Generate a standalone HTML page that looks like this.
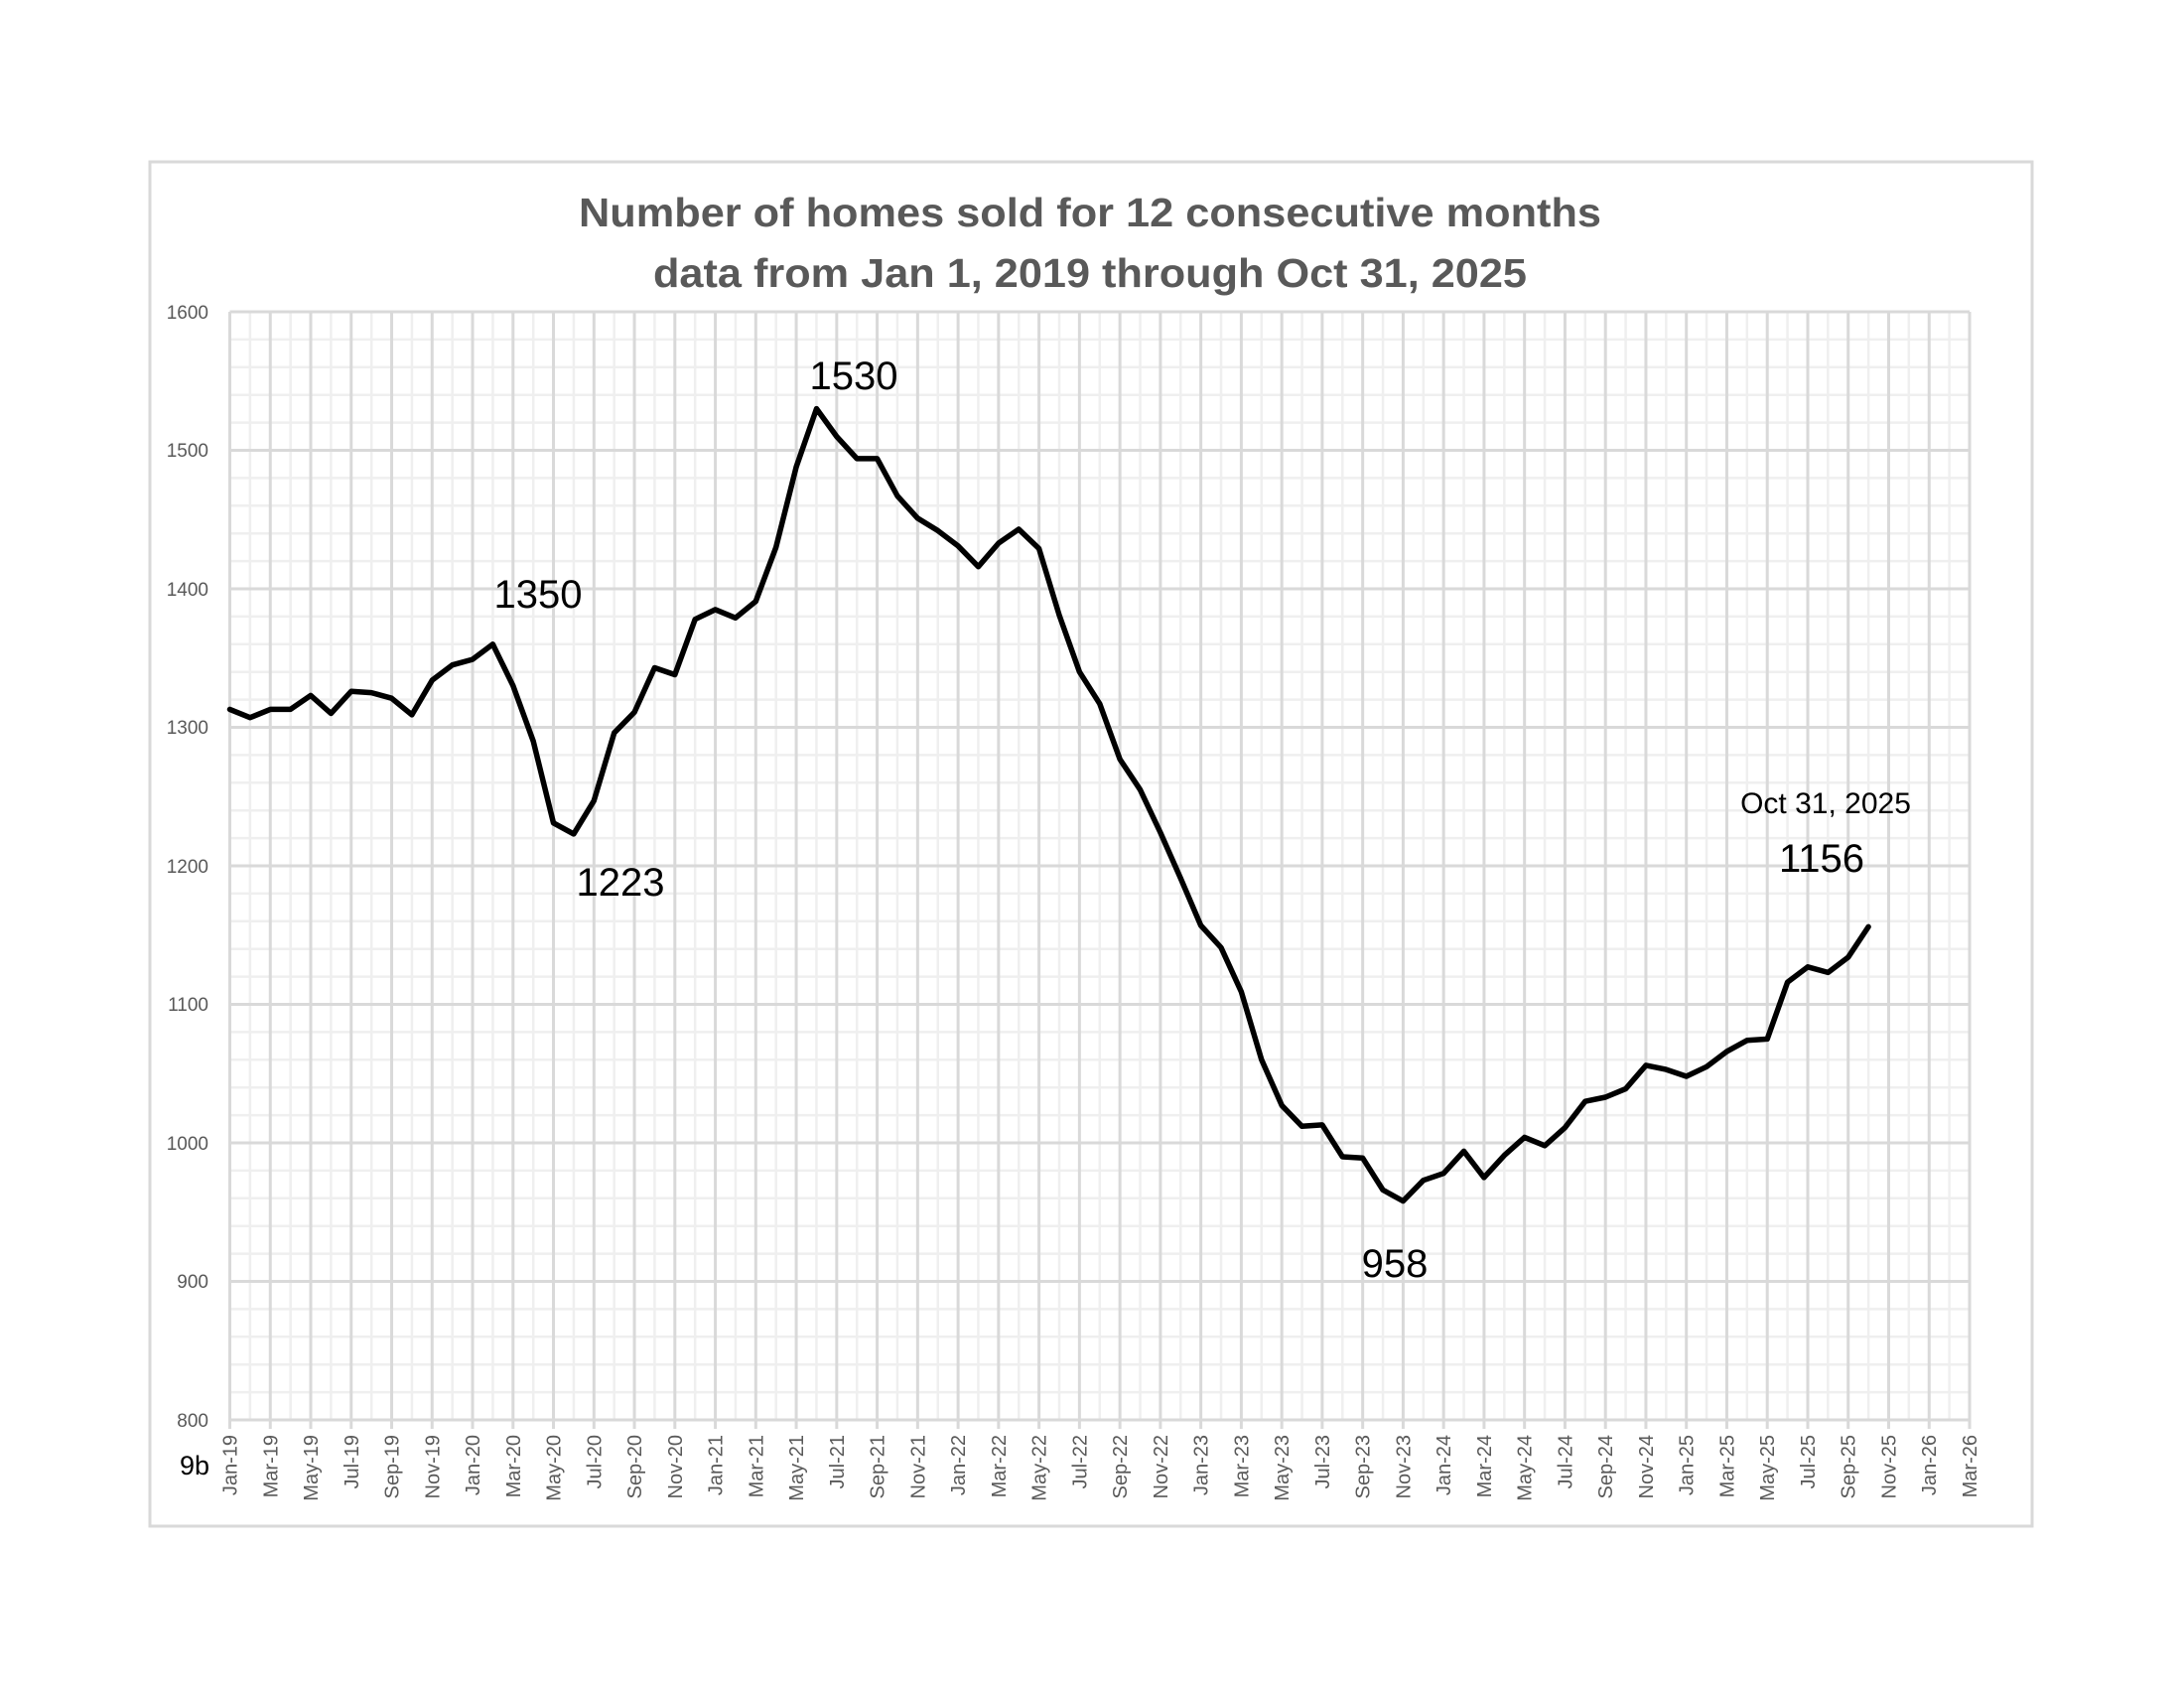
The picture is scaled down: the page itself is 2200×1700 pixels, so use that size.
<!DOCTYPE html>
<html><head><meta charset="utf-8"><style>
html,body{margin:0;padding:0;background:#fff;}
svg{display:block;}
text{font-family:"Liberation Sans",sans-serif;}
</style></head><body>
<svg id="s" width="2200" height="1700" viewBox="0 0 2200 1700" xmlns="http://www.w3.org/2000/svg">
<rect x="0" y="0" width="2200" height="1700" fill="#fff"/>
<rect x="151" y="163" width="1896" height="1374" fill="#fff" stroke="#d9d9d9" stroke-width="3"/>
<g id="grid"></g>
<polyline id="line" fill="none" stroke="#000" stroke-width="5.5" stroke-linejoin="round" stroke-linecap="round"/>
<g fill="#595959" font-weight="bold" font-size="41" text-anchor="middle" style="font-family:'Liberation Sans Narrow','Liberation Sans',sans-serif">
<text x="1098" y="228" textLength="1030" lengthAdjust="spacingAndGlyphs">Number of homes sold for 12 consecutive months</text>
<text x="1098" y="289" textLength="880" lengthAdjust="spacingAndGlyphs">data from Jan 1, 2019 through Oct 31, 2025</text>
</g>
<g fill="#595959" font-size="19" text-anchor="end">
<text x="210" y="321">1600</text><text x="210" y="460">1500</text><text x="210" y="600">1400</text><text x="210" y="739">1300</text><text x="210" y="879">1200</text><text x="210" y="1018">1100</text><text x="210" y="1158">1000</text><text x="210" y="1297">900</text><text x="210" y="1437">800</text>
</g>
<text x="196" y="1485" font-size="27" text-anchor="middle" fill="#000">9b</text>
<g id="xl" fill="#595959" font-size="20" text-anchor="end">
<text transform="translate(238.5,1445) rotate(-90)">Jan-19</text>
<text transform="translate(279.3,1445) rotate(-90)">Mar-19</text>
<text transform="translate(320,1445) rotate(-90)">May-19</text>
<text transform="translate(360.8,1445) rotate(-90)">Jul-19</text>
<text transform="translate(401.5,1445) rotate(-90)">Sep-19</text>
<text transform="translate(442.3,1445) rotate(-90)">Nov-19</text>
<text transform="translate(483,1445) rotate(-90)">Jan-20</text>
<text transform="translate(523.8,1445) rotate(-90)">Mar-20</text>
<text transform="translate(564.5,1445) rotate(-90)">May-20</text>
<text transform="translate(605.3,1445) rotate(-90)">Jul-20</text>
<text transform="translate(646,1445) rotate(-90)">Sep-20</text>
<text transform="translate(686.8,1445) rotate(-90)">Nov-20</text>
<text transform="translate(727.6,1445) rotate(-90)">Jan-21</text>
<text transform="translate(768.3,1445) rotate(-90)">Mar-21</text>
<text transform="translate(809.1,1445) rotate(-90)">May-21</text>
<text transform="translate(849.8,1445) rotate(-90)">Jul-21</text>
<text transform="translate(890.6,1445) rotate(-90)">Sep-21</text>
<text transform="translate(931.3,1445) rotate(-90)">Nov-21</text>
<text transform="translate(972.1,1445) rotate(-90)">Jan-22</text>
<text transform="translate(1012.8,1445) rotate(-90)">Mar-22</text>
<text transform="translate(1053.6,1445) rotate(-90)">May-22</text>
<text transform="translate(1094.3,1445) rotate(-90)">Jul-22</text>
<text transform="translate(1135.1,1445) rotate(-90)">Sep-22</text>
<text transform="translate(1175.8,1445) rotate(-90)">Nov-22</text>
<text transform="translate(1216.6,1445) rotate(-90)">Jan-23</text>
<text transform="translate(1257.3,1445) rotate(-90)">Mar-23</text>
<text transform="translate(1298.1,1445) rotate(-90)">May-23</text>
<text transform="translate(1338.8,1445) rotate(-90)">Jul-23</text>
<text transform="translate(1379.6,1445) rotate(-90)">Sep-23</text>
<text transform="translate(1420.3,1445) rotate(-90)">Nov-23</text>
<text transform="translate(1461.1,1445) rotate(-90)">Jan-24</text>
<text transform="translate(1501.8,1445) rotate(-90)">Mar-24</text>
<text transform="translate(1542.6,1445) rotate(-90)">May-24</text>
<text transform="translate(1583.3,1445) rotate(-90)">Jul-24</text>
<text transform="translate(1624.1,1445) rotate(-90)">Sep-24</text>
<text transform="translate(1664.8,1445) rotate(-90)">Nov-24</text>
<text transform="translate(1705.6,1445) rotate(-90)">Jan-25</text>
<text transform="translate(1746.3,1445) rotate(-90)">Mar-25</text>
<text transform="translate(1787.1,1445) rotate(-90)">May-25</text>
<text transform="translate(1827.8,1445) rotate(-90)">Jul-25</text>
<text transform="translate(1868.6,1445) rotate(-90)">Sep-25</text>
<text transform="translate(1909.3,1445) rotate(-90)">Nov-25</text>
<text transform="translate(1950.1,1445) rotate(-90)">Jan-26</text>
<text transform="translate(1990.8,1445) rotate(-90)">Mar-26</text>
</g>
<g fill="#000" font-size="40" text-anchor="middle">
<text x="860" y="392">1530</text>
<text x="542" y="612">1350</text>
<text x="625" y="902">1223</text>
<text x="1405" y="1286">958</text>
<text x="1835" y="878">1156</text>
<text x="1839" y="819" font-size="30">Oct 31, 2025</text>
</g>
</svg>
<script>
(function(){
var g=document.getElementById('grid'),ns='http://www.w3.org/2000/svg';
var X0=231.5,X1=1984,Y0=314,Y1=1430,dx=(X1-X0)/86;
function ln(x1,y1,x2,y2,c,w){var l=document.createElementNS(ns,'line');l.setAttribute('x1',x1);l.setAttribute('y1',y1);l.setAttribute('x2',x2);l.setAttribute('y2',y2);l.setAttribute('stroke',c);l.setAttribute('stroke-width',w);g.appendChild(l);}
for(var v=1600;v>800;v-=20){if(v%100)ln(X0,Y0+(1600-v)*1.395,X1,Y0+(1600-v)*1.395,'#efefef',2.5);}
for(var m=1;m<86;m+=2){ln(X0+m*dx,Y0,X0+m*dx,Y1,'#efefef',2.5);}
for(var v=1600;v>=800;v-=100){ln(X0,Y0+(1600-v)*1.395,X1,Y0+(1600-v)*1.395,'#d9d9d9',3);}
for(var m=0;m<=86;m+=2){ln(X0+m*dx,Y0,X0+m*dx,Y1+9,'#d9d9d9',3);}
var d=[1313,1307,1313,1313,1323,1310,1326,1325,1321,1309,1334,1345,1349,1360,1330,1290,1231,1223,1247,1296,1311,1343,1338,1378,1385,1379,1391,1430,1488,1530,1510,1494,1494,1467,1451,1442,1431,1416,1433,1443,1429,1381,1340,1317,1277,1255,1224,1191,1157,1141,1109,1060,1027,1012,1013,990,989,966,958,973,978,994,975,991,1004,998,1011,1030,1033,1039,1056,1053,1048,1055,1066,1074,1075,1116,1127,1123,1134,1156];
var p=d.map(function(v,i){return (X0+i*dx).toFixed(1)+','+(Y0+(1600-v)*1.395).toFixed(1);}).join(' ');
document.getElementById('line').setAttribute('points',p);
})();
</script>
</body></html>
